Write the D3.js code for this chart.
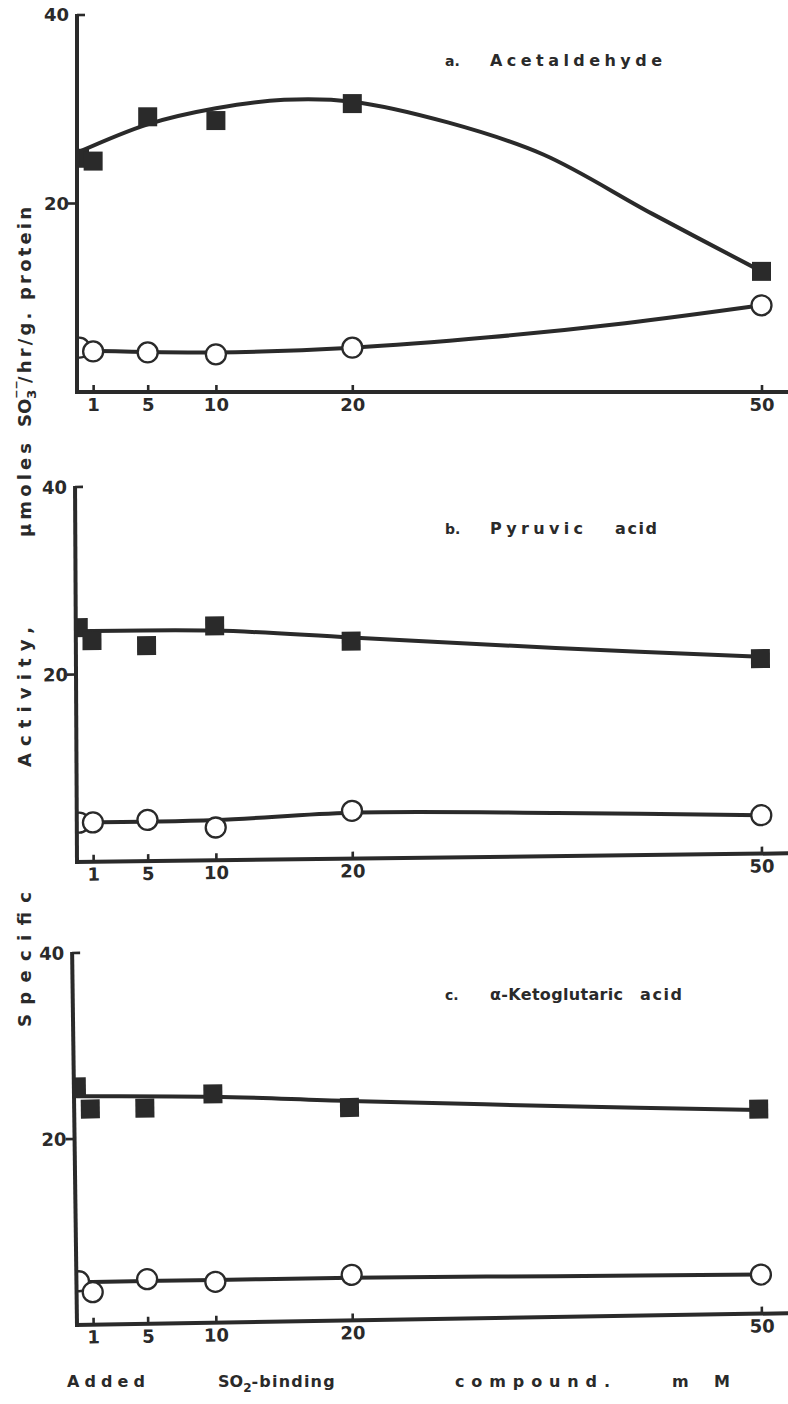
<!DOCTYPE html>
<html>
<head>
<meta charset="utf-8">
<script src="https://cdn.jsdelivr.net/npm/d3@7"></script>
<style>
  body { margin: 0; background: #fff; }
  svg { display: block; }
  text { font-family: "DejaVu Sans", "Liberation Sans", Arial, sans-serif; font-weight: bold; fill: #2a2a2a; }
</style>
</head>
<body>
<svg id="chart" width="788" height="1404"></svg>
<script>
// Added SO2-binding compound concentration (mM)
const concentrations = [0, 1, 5, 10, 20, 50];
const xTickValues = [1, 5, 10, 20, 50];
const yTickValues = [20, 40];

// a. Acetaldehyde — specific activity (µmoles SO3--/hr/g protein)
const acetaldehydeSquares = [24.8, 24.5, 29.2, 28.8, 30.6, 12.8];
const acetaldehydeCircles = [4.7, 4.3, 4.2, 4.0, 4.7, 9.2];
const acetaldehydeSquareFit = [[0, 25.5], [5, 28.4], [10, 30.1], [15, 31.0], [20, 30.8], [27, 28.6], [34, 25.2], [42, 18.9], [50, 12.8]];
const acetaldehydeCircleFit = [[0, 4.4], [10, 4.2], [20, 4.7], [30, 5.8], [40, 7.3], [50, 9.2]];

// b. Pyruvic acid
const pyruvicSquares = [25.0, 23.6, 23.0, 25.0, 23.2, 20.8];
const pyruvicCircles = [4.2, 4.2, 4.4, 3.5, 5.1, 4.1];
const pyruvicSquareFit = [[0, 24.6], [10, 24.5], [20, 23.6], [35, 22.2], [50, 21.0]];
const pyruvicCircleFit = [[0, 4.2], [10, 4.3], [20, 4.9], [35, 4.6], [50, 4.1]];

// c. alpha-Ketoglutaric acid
const ketoglutaricSquares = [25.6, 23.2, 23.2, 24.6, 22.9, 22.0];
const ketoglutaricCircles = [4.7, 3.5, 4.8, 4.4, 4.9, 4.2];
const ketoglutaricSquareFit = [[0, 24.6], [10, 24.3], [20, 23.6], [35, 22.7], [50, 21.9]];
const ketoglutaricCircleFit = [[0, 4.6], [10, 4.6], [20, 4.6], [35, 4.4], [50, 4.2]];

const ink = "#2a2a2a";
const AXIS_X = 77;
const svg = d3.select("#chart");

const x = d3.scaleLinear().domain([0, 50]).range([79.5, 761.5]);

const panels = [
  { id: "a", tag: "a.", name: "Acetaldehyde", nameLen: 172, tail: null, tailX: 0,
    squares: acetaldehydeSquares, circles: acetaldehydeCircles,
    squareFit: acetaldehydeSquareFit, circleFit: acetaldehydeCircleFit,
    y0: 392, y40: 15, angle: 0, skew: 0, titleY: 66 },
  { id: "b", tag: "b.", name: "Pyruvic", nameLen: 93, tail: "acid", tailX: 615,
    squares: pyruvicSquares, circles: pyruvicCircles,
    squareFit: pyruvicSquareFit, circleFit: pyruvicCircleFit,
    y0: 862, y40: 487, angle: -0.3, skew: -0.4, titleY: 534 },
  { id: "c", tag: "c.", name: "\u03b1-Ketoglutaric", nameLen: 133, tail: "acid", tailX: 640,
    squares: ketoglutaricSquares, circles: ketoglutaricCircles,
    squareFit: ketoglutaricSquareFit, circleFit: ketoglutaricCircleFit,
    y0: 1325, y40: 953, angle: -0.75, skew: -0.2, titleY: 1000 }
];

panels.forEach(p => {
  const y = d3.scaleLinear().domain([0, 40]).range([p.y0, p.y40]);
  const g = svg.append("g").attr("transform",
    `translate(${AXIS_X},${p.y0}) rotate(${p.angle}) skewY(${p.skew}) translate(${-AXIS_X},${-p.y0})`);

  const clipId = "clip-" + p.id;
  g.append("clipPath").attr("id", clipId).attr("clipPathUnits", "userSpaceOnUse")
    .append("rect").attr("x", AXIS_X).attr("y", p.y40 - 20)
    .attr("width", 788 - AXIS_X + 20).attr("height", p.y0 - p.y40 + 20);

  const plot = g.append("g").attr("clip-path", `url(#${clipId})`);
  const line = d3.line().x(d => x(d[0])).y(d => y(d[1])).curve(d3.curveCatmullRom.alpha(0.5));

  [p.squareFit, p.circleFit].forEach(fit => {
    plot.append("path").attr("d", line(fit))
      .attr("fill", "none").attr("stroke", ink).attr("stroke-width", 4)
      .attr("stroke-linecap", "round");
  });

  const s = 19;
  plot.selectAll("rect.sq").data(p.squares).join("rect").attr("class", "sq")
    .attr("x", (d, i) => x(concentrations[i]) - s / 2)
    .attr("y", d => y(d) - s / 2)
    .attr("width", s).attr("height", s).attr("fill", ink);

  plot.selectAll("circle.ci").data(p.circles).join("circle").attr("class", "ci")
    .attr("cx", (d, i) => x(concentrations[i]))
    .attr("cy", d => y(d))
    .attr("r", 10).attr("fill", "#fff").attr("stroke", ink).attr("stroke-width", 2.3);

  // axes
  g.append("line").attr("x1", AXIS_X).attr("x2", AXIS_X)
    .attr("y1", y(40) - 1).attr("y2", y(0) + 2)
    .attr("stroke", ink).attr("stroke-width", 4);
  g.append("line").attr("x1", AXIS_X - 2).attr("x2", 800)
    .attr("y1", y(0)).attr("y2", y(0))
    .attr("stroke", ink).attr("stroke-width", 4);
  g.append("line").attr("x1", AXIS_X).attr("x2", AXIS_X + 8)
    .attr("y1", y(40)).attr("y2", y(40))
    .attr("stroke", ink).attr("stroke-width", 2.6);
  g.append("line").attr("x1", AXIS_X - 9).attr("x2", AXIS_X + 1)
    .attr("y1", y(20)).attr("y2", y(20))
    .attr("stroke", ink).attr("stroke-width", 2.6);

  g.selectAll("text.ytick").data(yTickValues).join("text").attr("class", "ytick")
    .attr("x", 69).attr("y", d => y(d)).attr("dy", "0.36em")
    .attr("text-anchor", "end").attr("font-size", 18).text(d => d);

  const xAxis = d3.axisBottom(x).tickValues(xTickValues).tickSize(-7).tickPadding(6)
    .tickFormat(d3.format("d"));
  const ax = g.append("g").attr("transform", `translate(0,${y(0)})`).call(xAxis);
  ax.select(".domain").remove();
  ax.selectAll(".tick line").attr("stroke", ink).attr("stroke-width", 2.6);
  ax.selectAll(".tick text").attr("font-size", 18).attr("font-family", null)
    .attr("fill", ink).style("font-weight", "bold");

  // panel title
  svg.append("text").attr("x", 445).attr("y", p.titleY).attr("font-size", 14).text(p.tag);
  svg.append("text").attr("x", 490).attr("y", p.titleY).attr("font-size", 16)
    .attr("textLength", p.nameLen).attr("lengthAdjust", "spacing").text(p.name);
  if (p.tail) {
    svg.append("text").attr("x", p.tailX).attr("y", p.titleY).attr("font-size", 16)
      .attr("textLength", 42).attr("lengthAdjust", "spacing").text(p.tail);
  }
});

// y-axis title, running bottom to top
const yTitle = [
  { text: "Specific", y0: 1027, len: 135 },
  { text: "Activity,", y0: 767, len: 140 },
  { text: "\u03bcmoles", y0: 537, len: 94 }
];
yTitle.forEach(w => {
  svg.append("text")
    .attr("transform", `translate(31,${w.y0}) rotate(-90)`)
    .attr("font-size", 18).attr("textLength", w.len).attr("lengthAdjust", "spacing")
    .text(w.text);
});
const unit = svg.append("text")
  .attr("transform", "translate(31,427) rotate(-90)")
  .attr("font-size", 18);
unit.append("tspan").text("SO");
unit.append("tspan").attr("font-size", 13).attr("dy", 5).text("3");
unit.append("tspan").attr("font-size", 11).attr("dx", -9).attr("dy", -16).text("\u2212\u2212");
svg.append("text")
  .attr("transform", "translate(31,383) rotate(-90)")
  .attr("font-size", 18).attr("textLength", 176).attr("lengthAdjust", "spacing")
  .text("/hr/g. protein");

// x-axis title
const xTitle = [
  { x: 67, len: 78, text: "Added" },
  { x: 455, len: 155, text: "compound." },
  { x: 672, len: 58, text: "mM" }
];
xTitle.forEach(w => {
  svg.append("text").attr("x", w.x).attr("y", 1387).attr("font-size", 16)
    .attr("textLength", w.len).attr("lengthAdjust", "spacing").text(w.text);
});
const so2 = svg.append("text").attr("x", 218).attr("y", 1387).attr("font-size", 16);
so2.append("tspan").text("SO");
so2.append("tspan").attr("font-size", 12).attr("dy", 5).text("2");
so2.append("tspan").attr("dy", -5).attr("letter-spacing", 1.2).text("-binding");
</script>
</body>
</html>
